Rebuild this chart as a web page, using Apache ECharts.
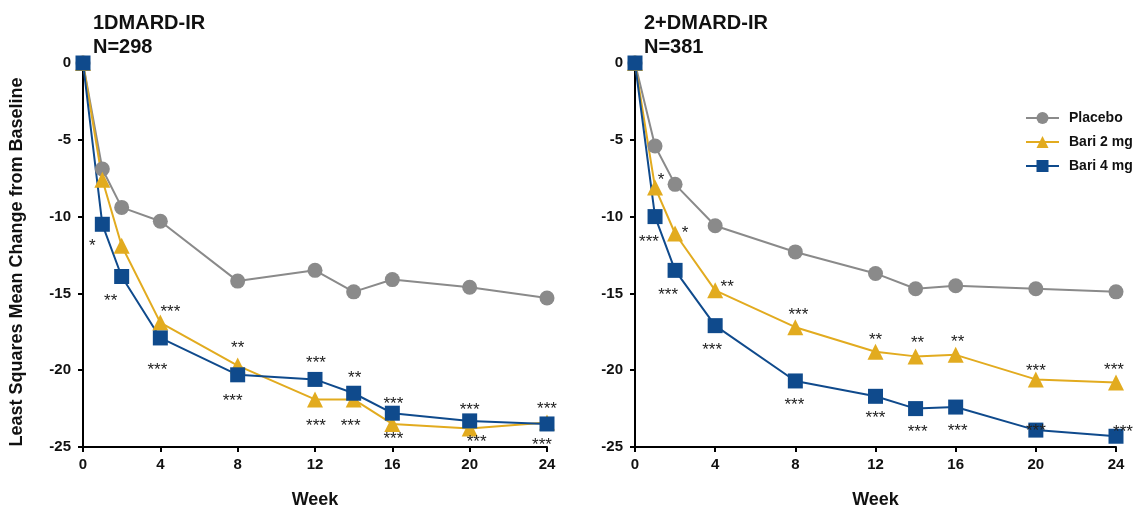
<!DOCTYPE html>
<html>
<head>
<meta charset="utf-8">
<script src="https://cdn.jsdelivr.net/npm/echarts@6/dist/echarts.min.js"></script>
<style>
  html, body { margin: 0; padding: 0; background: #fff; }
  #main { width: 1134px; height: 514px; }
</style>
</head>
<body>
<div id="main"></div>
<script>
// weeks on the x axis
var weeks = [0, 1, 2, 4, 8, 12, 14, 16, 20, 24];

// 1DMARD-IR, N=298
var leftPlacebo = [0, -6.9, -9.4, -10.3, -14.2, -13.5, -14.9, -14.1, -14.6, -15.3];
var leftBari2 = [0, -7.6, -11.9, -16.9, -19.7, -21.9, -21.9, -23.5, -23.8, -23.4];
var leftBari4 = [0, -10.5, -13.9, -17.9, -20.3, -20.6, -21.5, -22.8, -23.3, -23.5];
var leftSig2 = ['', '', '', '***', '**', '***', '***', '***', '***', '***'];
var leftSig4 = ['', '*', '**', '***', '***', '***', '**', '***', '***', '***'];

// 2+DMARD-IR, N=381
var rightPlacebo = [0, -5.4, -7.9, -10.6, -12.3, -13.7, -14.7, -14.5, -14.7, -14.9];
var rightBari2 = [0, -8.1, -11.1, -14.8, -17.2, -18.8, -19.1, -19.0, -20.6, -20.8];
var rightBari4 = [0, -10.0, -13.5, -17.1, -20.7, -21.7, -22.5, -22.4, -23.9, -24.3];
var rightSig2 = ['', '*', '*', '**', '***', '**', '**', '**', '***', '***'];
var rightSig4 = ['', '***', '***', '***', '***', '***', '***', '***', '***', '***'];

// where the stars sit relative to each marker (px)
var offLeft2 = [null, null, null, [10,-10], [0,-17], [1,27], [-3,27], [1,15], [7,14], [-5,23]];
var offLeft4 = [null, [-10,22], [-11,25], [-3,32], [-5,27], [1,-16], [1,-15], [1,-9], [0,-11], [0,-15]];
var offRight2 = [null, [6,-7], [10,0], [12,-3], [3,-12], [0,-11], [2,-13], [2,-13], [0,-8], [-2,-12]];
var offRight4 = [null, [-6,26], [-7,25], [-3,25], [-1,24], [0,22], [2,24], [2,24], [0,1], [7,-4]];

var grey = '#8a8a8a', gold = '#e2ab1f', navy = '#0f4a8c';
var font = 'Arial, "Liberation Sans", sans-serif';

function points(vals, sig, offs) {
  return vals.map(function (v, i) {
    var p = { value: [weeks[i], v] };
    if (sig && sig[i]) {
      p.label = {
        show: true, position: 'inside', formatter: sig[i], offset: offs[i],
        color: '#222', fontSize: 17, fontFamily: font
      };
    }
    return p;
  });
}

function line(name, color, symbol, size, vals, idx, sig, offs) {
  return {
    name: name, type: 'line', xAxisIndex: idx, yAxisIndex: idx,
    symbol: symbol, symbolSize: size, color: color,
    lineStyle: { width: 2, color: color },
    itemStyle: { color: color },
    label: { show: false },
    emphasis: { disabled: true },
    data: points(vals, sig, offs)
  };
}

var axisBase = {
  axisLine: { show: true, onZero: false, lineStyle: { color: '#000', width: 2 } },
  axisTick: { show: true, inside: false, length: 5, lineStyle: { color: '#000', width: 2 } },
  splitLine: { show: false },
  axisLabel: { color: '#111', fontSize: 15, fontWeight: 'bold', fontFamily: font }
};

function xAx(idx) {
  return Object.assign({}, axisBase, {
    type: 'value', gridIndex: idx, min: 0, max: 24, interval: 4,
    name: 'Week', nameLocation: 'middle', nameGap: 44,
    nameTextStyle: { color: '#111', fontSize: 18, fontWeight: 'bold', fontFamily: font },
    axisLabel: Object.assign({}, axisBase.axisLabel, { margin: 10 })
  });
}
function yAx(idx) {
  return Object.assign({}, axisBase, {
    type: 'value', gridIndex: idx, min: -25, max: 0, interval: 5,
    axisLabel: Object.assign({}, axisBase.axisLabel, { margin: 12 })
  });
}

var chart = echarts.init(document.getElementById('main'), null, { renderer: 'canvas' });
chart.setOption({
  animation: false,
  backgroundColor: '#fff',
  title: [
    { text: '1DMARD-IR\nN=298', left: 88, top: 6,
      textStyle: { fontSize: 20, fontWeight: 'bold', color: '#111', lineHeight: 24, fontFamily: font } },
    { text: '2+DMARD-IR\nN=381', left: 639, top: 6,
      textStyle: { fontSize: 20, fontWeight: 'bold', color: '#111', lineHeight: 24, fontFamily: font } }
  ],
  graphic: [{
    type: 'text', x: 17, y: 262, rotation: Math.PI / 2,
    style: {
      text: 'Least Squares Mean Change from Baseline', fill: '#111',
      font: 'bold 18px ' + font, align: 'center', verticalAlign: 'middle'
    }
  }],
  legend: {
    orient: 'vertical', left: 1020, top: 106, itemWidth: 33, itemHeight: 15, itemGap: 10,
    data: ['Placebo', 'Bari 2 mg', 'Bari 4 mg'],
    textStyle: { fontSize: 14, fontWeight: 'bold', color: '#111', fontFamily: font, padding: [0, 0, 0, 5] }
  },
  grid: [
    { left: 83, right: 587, top: 63, bottom: 55 },
    { left: 635, right: 18, top: 63, bottom: 55 }
  ],
  xAxis: [xAx(0), xAx(1)],
  yAxis: [yAx(0), yAx(1)],
  series: [
    line('Placebo', grey, 'circle', 15, leftPlacebo, 0),
    line('Bari 2 mg', gold, 'triangle', 16, leftBari2, 0, leftSig2, offLeft2),
    line('Bari 4 mg', navy, 'rect', 15, leftBari4, 0, leftSig4, offLeft4),
    line('Placebo', grey, 'circle', 15, rightPlacebo, 1),
    line('Bari 2 mg', gold, 'triangle', 16, rightBari2, 1, rightSig2, offRight2),
    line('Bari 4 mg', navy, 'rect', 15, rightBari4, 1, rightSig4, offRight4)
  ]
});
</script>
</body>
</html>
